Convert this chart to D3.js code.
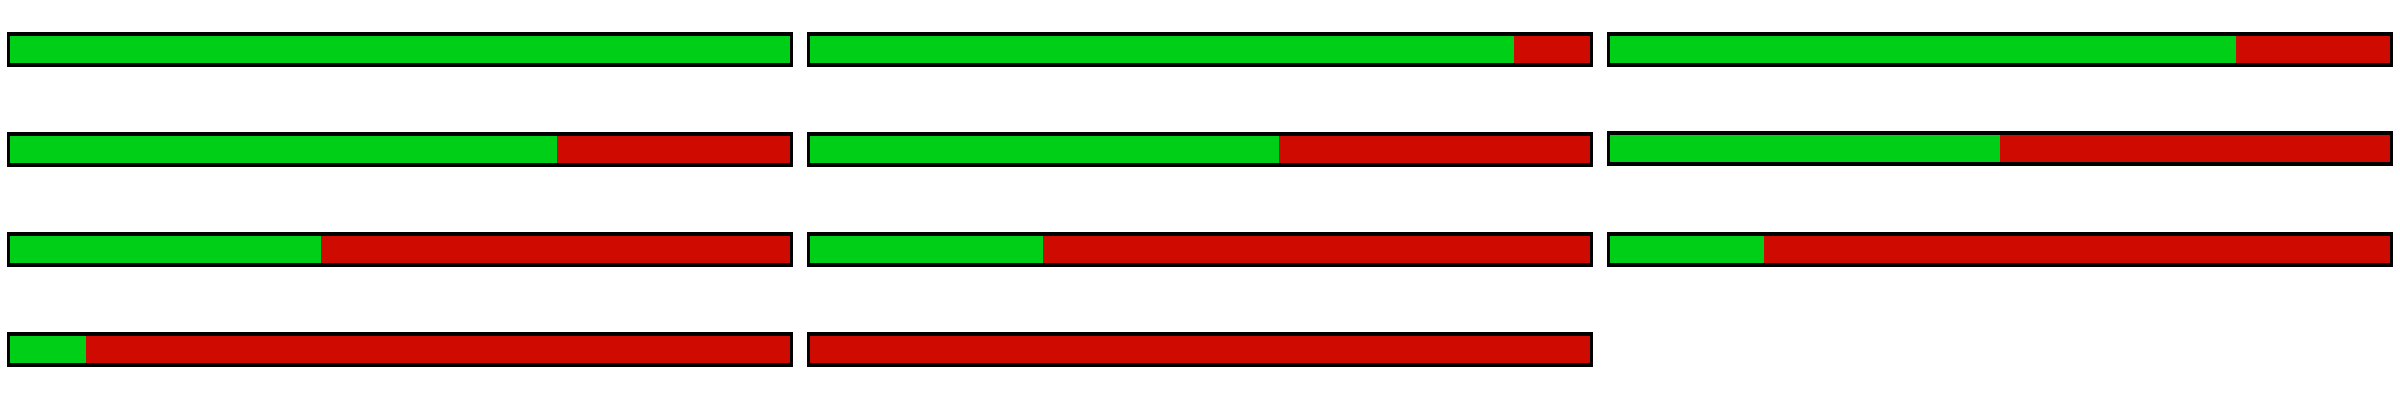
<!DOCTYPE html>
<html>
<head>
<meta charset="utf-8">
<script src="https://cdn.jsdelivr.net/npm/d3@7"></script>
<style>
  html, body { margin: 0; padding: 0; background: #ffffff; }
  svg { display: block; }
</style>
</head>
<body>
<script>
// ---- data ----
const categories = ["1", "2", "3", "4", "5", "6", "7", "8", "9", "10", "11"];
const greenValues = [100, 90, 80, 70, 60, 50, 40, 30, 20, 10, 0];
const redValues   = [0, 10, 20, 30, 40, 50, 60, 70, 80, 90, 100];
const seriesNames = ["green", "red"];
const seriesColors = ["#00cf17", "#cf0a00"];

// ---- layout ----
const W = 2400, H = 400;
const nCols = 3;
const cellW = 800, cellH = 100;
const boxW = 786, boxH = 35;      // outer black box
const offX = 7, offY = 32;
const borderX = 3, borderY = 4;

const svg = d3.select("body").append("svg")
  .attr("width", W).attr("height", H);

const x = d3.scaleLinear().domain([0, 100]).range([0, boxW]);
const color = d3.scaleOrdinal().domain(seriesNames).range(seriesColors);

const rows = categories.map((c, i) => ({
  cat: c,
  col: i % nCols,
  row: Math.floor(i / nCols),
  segs: [
    { key: "green", start: 0, end: greenValues[i] },
    { key: "red", start: greenValues[i], end: greenValues[i] + redValues[i] }
  ]
}));

const g = svg.selectAll("g.bar").data(rows).enter().append("g")
  .attr("class", "bar")
  .attr("transform", (d, i) => {
    const nudge = (i === 5) ? -1 : 0;
    return `translate(${offX + d.col * cellW},${offY + d.row * cellH + nudge})`;
  });

// outer black frame
g.append("rect")
  .attr("x", 0).attr("y", 0)
  .attr("width", boxW).attr("height", boxH)
  .attr("fill", "#000000")
  .attr("shape-rendering", "crispEdges");

// stacked segments, clipped to inside of frame
g.selectAll("rect.seg").data(d => d.segs.filter(s => s.end > s.start)).enter().append("rect")
  .attr("class", "seg")
  .attr("x", s => Math.max(borderX, x(s.start)))
  .attr("y", borderY)
  .attr("width", s => Math.max(0, Math.min(boxW - borderX, x(s.end)) - Math.max(borderX, x(s.start))))
  .attr("height", boxH - 2 * borderY)
  .attr("fill", s => color(s.key))
  .attr("shape-rendering", "crispEdges");
</script>
</body>
</html>
